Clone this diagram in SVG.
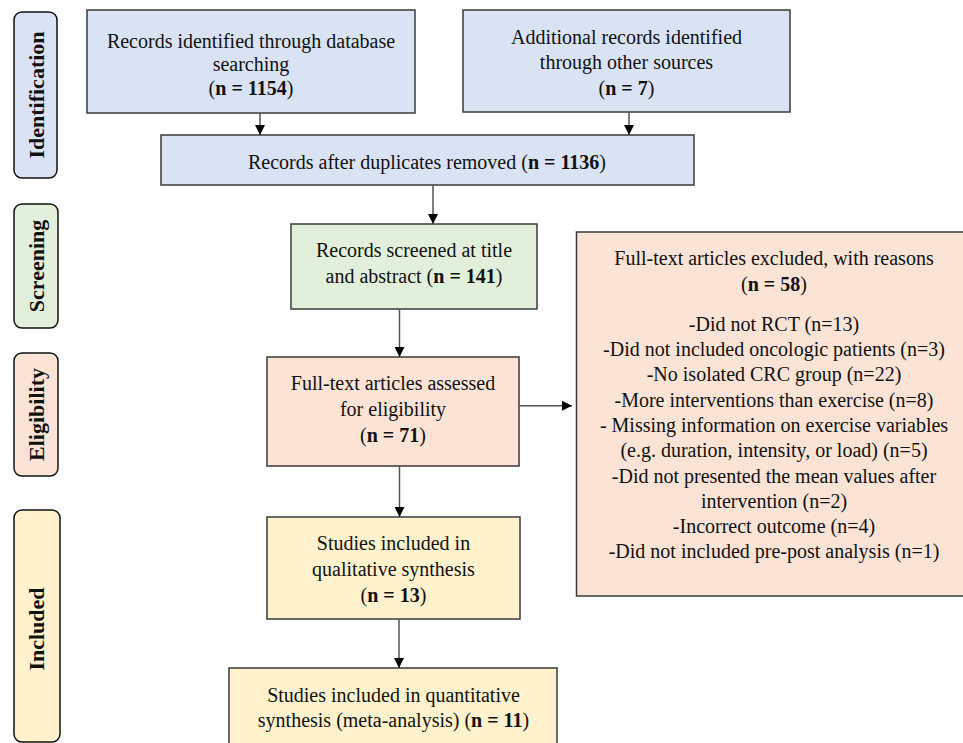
<svg xmlns="http://www.w3.org/2000/svg" width="963" height="743" viewBox="0 0 963 743">
<defs>
<style>
.t{font-family:"Liberation Serif","Times New Roman",serif;font-size:20px;fill:#111;text-anchor:middle}
.b{font-weight:bold}
.lab{font-family:"Liberation Serif","Times New Roman",serif;font-size:22px;font-weight:bold;fill:#111;text-anchor:middle}
.box{stroke:#3a3a3a;stroke-width:1.5}
.pill{stroke:#111;stroke-width:1.5}
.blue{fill:#dae3f3}.green{fill:#e2efda}.red{fill:#fbe3d6}.yel{fill:#fff2cc}
.ln{stroke:#555;stroke-width:1.5;fill:none}
</style>
<marker id="ah" viewBox="0 0 10 10" refX="10" refY="5" markerWidth="10" markerHeight="10" markerUnits="userSpaceOnUse" orient="auto">
<path d="M0,0 L10,5 L0,10 Z" fill="#000"/>
</marker>
</defs>
<rect width="963" height="743" fill="#fff"/>

<g id="phase-identification">
<rect class="pill blue" x="14" y="12" width="43" height="166" rx="8"/>
<text class="lab" transform="translate(44,95) rotate(-90)">Identification</text>
</g>
<g id="phase-screening">
<rect class="pill green" x="14" y="204" width="44" height="124" rx="8"/>
<text class="lab" transform="translate(44,266) rotate(-90)">Screening</text>
</g>
<g id="phase-eligibility">
<rect class="pill red" x="14" y="353" width="44" height="123" rx="8"/>
<text class="lab" transform="translate(44,414.5) rotate(-90)">Eligibility</text>
</g>
<g id="phase-included">
<rect class="pill yel" x="14" y="510" width="46" height="232" rx="8"/>
<text class="lab" transform="translate(44,629) rotate(-90)">Included</text>
</g>

<g id="n-database">
<rect class="box blue" x="87" y="10" width="328" height="103"/>
<text class="t" x="251" y="48">Records identified through database</text>
<text class="t" x="251" y="70.5">searching</text>
<text class="t" x="251" y="95">(<tspan class="b">n = 1154</tspan>)</text>
</g>
<g id="n-other">
<rect class="box blue" x="463" y="10" width="327" height="102"/>
<text class="t" x="626.5" y="43.5">Additional records identified</text>
<text class="t" x="626.5" y="68.5">through other sources</text>
<text class="t" x="626.5" y="95">(<tspan class="b">n = 7</tspan>)</text>
</g>
<g id="n-duplicates">
<rect class="box blue" x="161" y="135" width="533" height="50"/>
<text class="t" x="427" y="168.5">Records after duplicates removed (<tspan class="b">n = 1136</tspan>)</text>
</g>
<g id="n-screened">
<rect class="box green" x="291" y="224" width="246" height="85"/>
<text class="t" x="414" y="256.7">Records screened at title</text>
<text class="t" x="414" y="282.7">and abstract (<tspan class="b">n = 141</tspan>)</text>
</g>
<g id="n-fulltext">
<rect class="box red" x="267" y="357" width="252" height="109"/>
<text class="t" x="393" y="390">Full-text articles assessed</text>
<text class="t" x="393" y="415.5">for eligibility</text>
<text class="t" x="393" y="441.7">(<tspan class="b">n = 71</tspan>)</text>
</g>
<g id="n-excluded">
<rect class="box red" x="576.5" y="232" width="390" height="364"/>
<text class="t" x="774" y="265">Full-text articles excluded, with reasons</text>
<text class="t" x="774" y="291">(<tspan class="b">n = 58</tspan>)</text>
<text class="t" x="774" y="330.7">-Did not RCT (n=13)</text>
<text class="t" x="774" y="356">-Did not included oncologic patients (n=3)</text>
<text class="t" x="774" y="381.3">-No isolated CRC group (n=22)</text>
<text class="t" x="774" y="406.6">-More interventions than exercise (n=8)</text>
<text class="t" x="774" y="431.9">- Missing information on exercise variables</text>
<text class="t" x="774" y="457.2">(e.g. duration, intensity, or load) (n=5)</text>
<text class="t" x="774" y="482.5">-Did not presented the mean values after</text>
<text class="t" x="774" y="507.8">intervention (n=2)</text>
<text class="t" x="774" y="533.1">-Incorrect outcome (n=4)</text>
<text class="t" x="774" y="558.4">-Did not included pre-post analysis (n=1)</text>
</g>
<g id="n-qualitative">
<rect class="box yel" x="267" y="517" width="253" height="102"/>
<text class="t" x="393.5" y="550">Studies included in</text>
<text class="t" x="393.5" y="575.7">qualitative synthesis</text>
<text class="t" x="393.5" y="601.7">(<tspan class="b">n = 13</tspan>)</text>
</g>
<g id="n-quantitative">
<rect class="box yel" x="229" y="668" width="328" height="90"/>
<text class="t" x="393.5" y="701.7">Studies included in quantitative</text>
<text class="t" x="393.5" y="726.7">synthesis (meta-analysis) (<tspan class="b">n = 11</tspan>)</text>
</g>

<g id="connectors">
<line class="ln" x1="260" y1="113" x2="260" y2="135" marker-end="url(#ah)"/>
<line class="ln" x1="629" y1="112" x2="629" y2="135" marker-end="url(#ah)"/>
<line class="ln" x1="433" y1="185" x2="433" y2="224" marker-end="url(#ah)"/>
<line class="ln" x1="399.5" y1="309" x2="399.5" y2="357" marker-end="url(#ah)"/>
<line class="ln" x1="519" y1="405.7" x2="572" y2="405.7" marker-end="url(#ah)"/>
<line class="ln" x1="399.5" y1="466" x2="399.5" y2="517" marker-end="url(#ah)"/>
<line class="ln" x1="399" y1="619" x2="399" y2="668" marker-end="url(#ah)"/>
</g>
</svg>
